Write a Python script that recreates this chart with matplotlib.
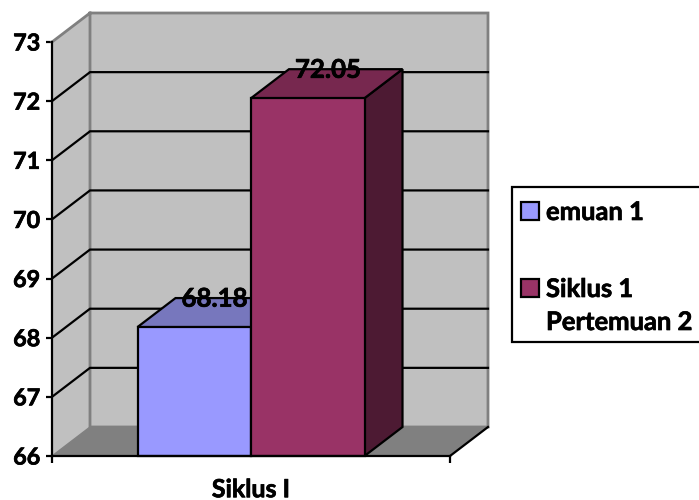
import matplotlib
matplotlib.use("Agg")
import matplotlib.pyplot as plt
import matplotlib.patheffects as pe
from matplotlib.patches import Polygon, Rectangle

plt.rcParams['font.family'] = ['Lato', 'DejaVu Sans']

categories = ['Siklus I']
series_names = ['emuan 1', 'Siklus 1\nPertemuan 2']
series_values = [68.18, 72.05]
value_labels = ['68.18', '72.05']
y_ticks = [66, 67, 68, 69, 70, 71, 72, 73]

W, H = 699, 500
FS_TICK = 16.8
FS_LABEL = 18.6
FS_LEG = 18.4
FS_CAT = 18.0
LW = 1.6
INK = 'black'
HEAVY = [pe.withStroke(linewidth=0.5, foreground=INK)]
fig = plt.figure(figsize=(W / 100, H / 100), dpi=100)
ax = fig.add_axes([52 / W, (H - 456) / H, 398 / W, 414 / H])
ax.set_xlim(-0.5, 0.5)
ax.set_ylim(y_ticks[0], y_ticks[-1])
ax.patch.set_visible(False)

DX = 38 / 398      # depth along x, in data units
DY = 29 / (414 / 7)  # depth along y, in data units
BAR_W = 113.5 / 398
x0, x1 = ax.get_xlim()
y0, y1 = ax.get_ylim()


def poly(pts, fc, ec='none', lw=0, z=1):
    ax.add_patch(Polygon(pts, closed=True, facecolor=fc, edgecolor=ec,
                         linewidth=lw, zorder=z, clip_on=False,
                         joinstyle='miter'))


# walls and floor
poly([(x0, y0), (x0 + DX, y0 + DY), (x0 + DX, y1 + DY), (x0, y1)], '#C0C0C0', z=1)
poly([(x0 + DX, y0 + DY), (x1 + DX, y0 + DY), (x1 + DX, y1 + DY), (x0 + DX, y1 + DY)], '#C0C0C0', z=1)
poly([(x0, y0), (x1, y0), (x1 + DX, y0 + DY), (x0 + DX, y0 + DY)], '#808080', z=1)

GRAY = '#808080'
ax.plot([x0, x0 + DX, x1 + DX, x1 + DX, x0 + DX, x0 + DX],
        [y1, y1 + DY, y1 + DY, y0 + DY, y0 + DY, y1 + DY],
        color=GRAY, lw=2.0, zorder=2, clip_on=False, solid_joinstyle='miter')
ax.plot([x0, x0 + DX], [y0, y0 + DY], color=GRAY, lw=1.0, zorder=2, clip_on=False)

# gridlines
for t in y_ticks[1:-1]:
    ax.plot([x0, x0 + DX, x1 + DX], [t, t + DY, t + DY], color='black',
            lw=LW, zorder=3, clip_on=False, solid_joinstyle='miter')

# floor front-right edge
ax.plot([x1, x1 + DX], [y0, y0 + DY], color='black', lw=LW, zorder=3, clip_on=False)

# bars
front = ['#9999FF', '#993366']
top = ['#7777BD', '#77284F']
side = ['#4A4A7A', '#4D1A33']
pos = [-BAR_W / 2, BAR_W / 2]
for i in [0, 1]:
    p, v = pos[i], series_values[i]
    l, r = p - BAR_W / 2, p + BAR_W / 2
    poly([(r, y0), (r + DX, y0 + DY), (r + DX, v + DY), (r, v)], side[i], 'black', LW, z=4 + i)
    poly([(l, v), (r, v), (r + DX, v + DY), (l + DX, v + DY)], top[i], 'black', LW, z=4 + i)
    ax.bar(p, v - y0, BAR_W, bottom=y0, color=front[i], edgecolor='black',
           linewidth=LW, zorder=4.5 + i, clip_on=False)
    ax.annotate(value_labels[i], xy=(p + DX / 2, v + DY / 2), xytext=(1, 10),
                textcoords='offset points', ha='center', va='center',
                fontsize=FS_LABEL, fontweight='bold', color=INK, zorder=8,
                annotation_clip=False, path_effects=HEAVY)

# axes
for s in ['top', 'right']:
    ax.spines[s].set_visible(False)
for s in ['left', 'bottom']:
    ax.spines[s].set_linewidth(LW)
    ax.spines[s].set_zorder(7)
ax.set_yticks(y_ticks)
ax.set_yticklabels([str(t) for t in y_ticks], fontsize=FS_TICK, fontweight='bold', color=INK,
                    path_effects=HEAVY)
ax.tick_params(axis='y', length=4, width=LW, pad=4.5)
ax.set_xticks([x0, x1])
ax.set_xticklabels(['', ''])
ax.tick_params(axis='x', which='major', length=5, width=LW)
ax.set_xticks([0], minor=True)
ax.set_xticklabels(categories, minor=True, fontsize=FS_CAT, fontweight='bold', color=INK,
                   path_effects=HEAVY)
ax.tick_params(axis='x', which='minor', length=0, pad=16)


# legend (box runs past the right edge of the picture, as in the reference)
def fx(px):
    return px / W


def fy(py):
    return (H - py) / H


fig.add_artist(Rectangle((fx(511.5), fy(342)), fx(200), 155 / H, transform=fig.transFigure,
                         facecolor='white', edgecolor='black', linewidth=LW, zorder=1))
for name, color, yh in zip(series_names, front, [211, 288]):
    fig.add_artist(Rectangle((fx(521), fy(yh + 9)), 18 / W, 18 / H, transform=fig.transFigure,
                             facecolor=color, edgecolor='black', linewidth=LW, zorder=2))
    fig.text(fx(546), fy(yh - 11), name, ha='left', va='top', fontsize=FS_LEG, fontweight='bold',
             color=INK, linespacing=1.45, zorder=3, path_effects=HEAVY)

fig.savefig('out.png', dpi=100)
